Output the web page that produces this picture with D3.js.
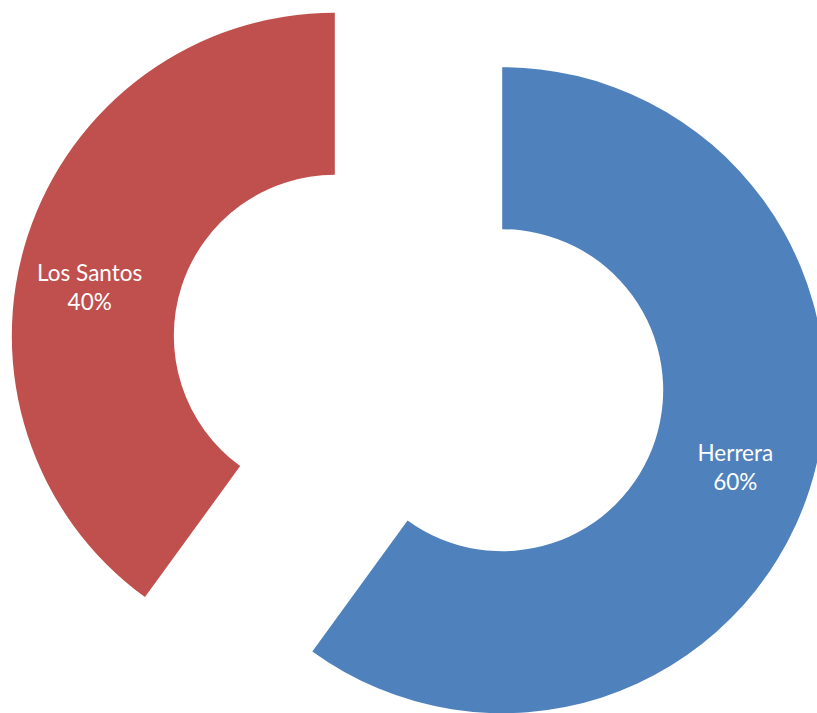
<!DOCTYPE html>
<html><head><meta charset="utf-8">
<script src="https://cdn.jsdelivr.net/npm/d3@7"></script>
<style>body{margin:0;background:#fff}svg{display:block}</style>
</head><body>
<svg id="c" width="817" height="713"></svg>
<script>
const categories = ["Herrera", "Los Santos"];
const values = [60, 40];
const colors = ["#4F81BD", "#C0504D"];

const W = 817, H = 713;
const cx = 418.5, cy = 363, outerR = 323, innerR = 161, explode = 88;
const svg = d3.select("#c");
const pie = d3.pie().sort(null).value(d => d)(values);
const arc = d3.arc().innerRadius(innerR).outerRadius(outerR);
const total = d3.sum(values);
// label placement nudges (px) per slice, as placed in the original
const labelNudge = [[3, 0], [-15, 24]];

const g = svg.append("g").attr("transform", `translate(${cx},${cy})`);
pie.forEach((p, i) => {
  const mid = (p.startAngle + p.endAngle) / 2;
  const dx = Math.sin(mid) * explode, dy = -Math.cos(mid) * explode;
  const sg = g.append("g").attr("transform", `translate(${dx},${dy})`);
  sg.append("path").attr("d", arc(p)).attr("fill", colors[i]);
  const [lx0, ly0] = arc.centroid(p);
  const lx = lx0 + labelNudge[i][0], ly = ly0 + labelNudge[i][1];
  const t = sg.append("text").attr("text-anchor", "middle")
    .attr("font-family", "Lato, sans-serif").attr("font-size", 22.5)
    .attr("fill", "#fff");
  t.append("tspan").attr("x", lx).attr("y", ly - 4).text(categories[i]);
  t.append("tspan").attr("x", lx).attr("y", ly + 25).text(Math.round(values[i] / total * 100) + "%");
});
</script>
</body></html>
